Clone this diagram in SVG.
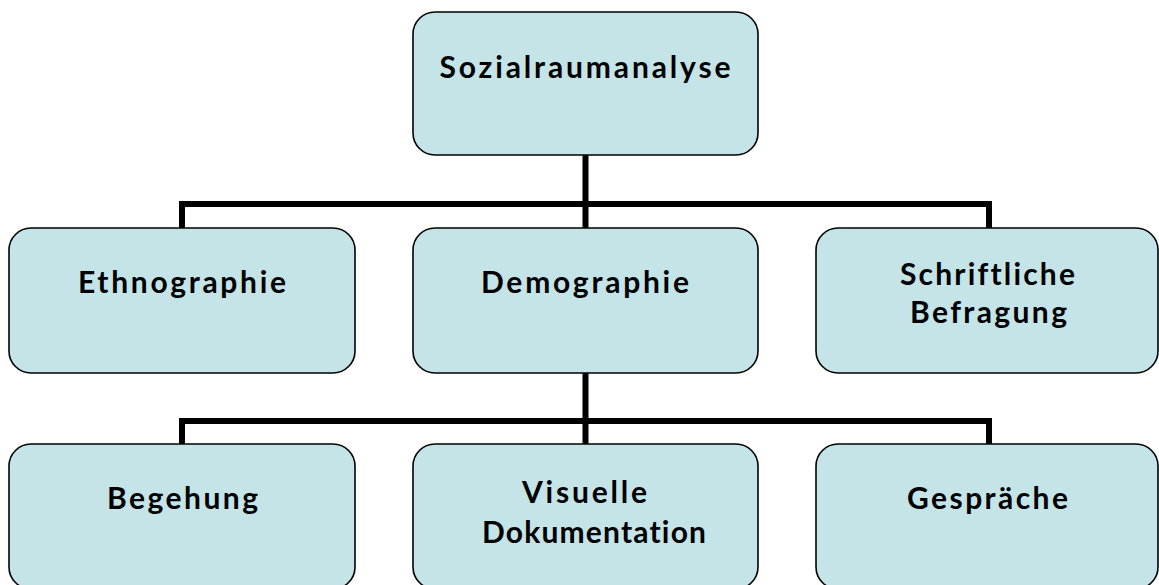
<svg xmlns="http://www.w3.org/2000/svg" width="1159" height="585" viewBox="0 0 1159 585">
<style>
.box{fill:#C5E4E8;stroke:#000;stroke-width:1.6}
.lbl{font-family:Lato,"Open Sans","Liberation Sans",sans-serif;font-weight:700;font-size:30px;fill:#000;text-anchor:middle;font-variant-ligatures:none;font-feature-settings:"liga" 0,"clig" 0}
.con{fill:none;stroke:#000;stroke-width:6;stroke-linejoin:miter}
</style>
<rect width="1159" height="585" fill="#fff"/>
<g id="connectors">
<path class="con" d="M585.5 155 V228"/>
<path class="con" d="M182 228 V204 H989 V228"/>
<path class="con" d="M585.5 373 V444"/>
<path class="con" d="M182 444 V421 H989 V444"/>
</g>
<g id="n-sozialraumanalyse">
<rect class="box" x="413" y="12" width="345" height="143" rx="22"/>
<text class="lbl" x="585" y="78" textLength="291" lengthAdjust="spacing">Sozialraumanalyse</text>
</g>
<g id="n-ethnographie">
<rect class="box" x="9" y="228" width="346" height="145" rx="22"/>
<text class="lbl" x="182" y="293" textLength="208" lengthAdjust="spacing">Ethnographie</text>
</g>
<g id="n-demographie">
<rect class="box" x="413" y="228" width="345" height="145" rx="22"/>
<text class="lbl" x="585" y="293" textLength="208" lengthAdjust="spacing">Demographie</text>
</g>
<g id="n-befragung">
<rect class="box" x="816" y="228" width="342" height="145" rx="22"/>
<text class="lbl" x="987.5" y="285" textLength="175" lengthAdjust="spacing">Schriftliche</text>
<text class="lbl" x="988.5" y="323" textLength="157" lengthAdjust="spacing">Befragung</text>
</g>
<g id="n-begehung">
<rect class="box" x="9" y="444" width="346" height="145" rx="22"/>
<text class="lbl" x="182.5" y="509" textLength="151" lengthAdjust="spacing">Begehung</text>
</g>
<g id="n-visuelle">
<rect class="box" x="413" y="444" width="345" height="145" rx="22"/>
<text class="lbl" x="584.5" y="503" textLength="125" lengthAdjust="spacing">Visuelle</text>
<text class="lbl" x="594" y="543" textLength="224" lengthAdjust="spacing">Dokumentation</text>
</g>
<g id="n-gespraeche">
<rect class="box" x="816" y="444" width="342" height="145" rx="22"/>
<text class="lbl" x="987.5" y="509" textLength="161" lengthAdjust="spacing">Gespräche</text>
</g>
</svg>
